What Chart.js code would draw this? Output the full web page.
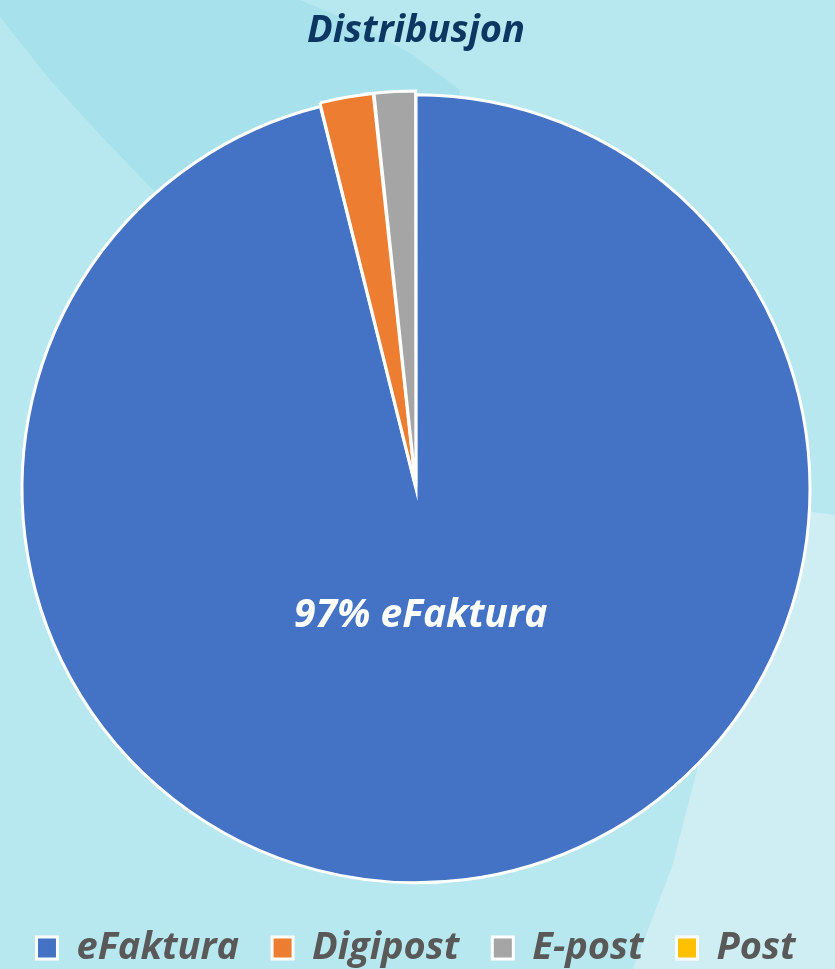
<!DOCTYPE html>
<html>
<head>
<meta charset="utf-8">
<script src="https://cdn.jsdelivr.net/npm/chart.js@4"></script>
<style>
  html, body { margin: 0; padding: 0; }
  body { width: 835px; height: 969px; background: #b8e8ef; position: relative; overflow: hidden; }
  .shape { position: absolute; left: 0; top: 0; width: 835px; height: 969px; }
  #dark {
    background: #a7e2ec;
    clip-path: polygon(0 0, 300px 0, 360px 25px, 413px 55px, 460px 90px, 416px 489px, 153px 190px, 100px 135px, 50px 80px, 0 17px);
  }
  #light {
    background: #ceeef4;
    clip-path: polygon(835px 515px, 812px 512px, 760px 520px, 697px 770px, 672px 867px, 633px 969px, 835px 969px);
  }
  #wrap { position: absolute; left: 0; top: 0; width: 835px; height: 969px; }
</style>
</head>
<body>
<div class="shape" id="dark"></div>
<div class="shape" id="light"></div>
<div id="wrap"><canvas id="chart"></canvas></div>
<script>
const categories = ["eFaktura", "Digipost", "E-post", "Post"];
const shares = [96.1, 2.2, 1.7, 0];
const sliceLabels = ["97% eFaktura", "", "", ""];
const sliceColors = ["#4472c4", "#ed7d31", "#a5a5a5", "#ffc000"];
const sliceOffsets = [0, 8, 8, 0];

const fontFamily = "'Open Sans', sans-serif";

// white text label inside the big slice
const sliceLabelPlugin = {
  id: "sliceLabel",
  afterDatasetsDraw(chart) {
    const meta = chart.getDatasetMeta(0);
    const ctx = chart.ctx;
    meta.data.forEach(function (arc, i) {
      if (!sliceLabels[i]) return;
      const p = arc.getProps(["x", "y", "outerRadius"], true);
      ctx.save();
      ctx.font = "italic bold 39px " + fontFamily;
      ctx.fillStyle = "#ffffff";
      ctx.textAlign = "center";
      ctx.textBaseline = "middle";
      ctx.fillText(sliceLabels[i], p.x + p.outerRadius * 0.012, p.y + p.outerRadius * 0.322);
      ctx.restore();
    });
  },
};

new Chart(document.getElementById("chart"), {
  type: "pie",
  data: {
    labels: categories,
    datasets: [
      {
        data: shares,
        backgroundColor: sliceColors,
        borderColor: "#ffffff",
        borderWidth: 3,
        borderJoinStyle: "miter",
        offset: sliceOffsets,
      },
    ],
  },
  options: {
    responsive: true,
    maintainAspectRatio: false,
    animation: false,
    radius: 394,
    layout: {
      padding: { right: 3, bottom: -8 },
    },
    plugins: {
      title: {
        display: true,
        text: "Distribusjon",
        color: "#0b3762",
        font: { family: fontFamily, size: 38, weight: "bold", style: "italic" },
        padding: { top: 8, bottom: 28 },
      },
      legend: {
        display: true,
        position: "bottom",
        labels: {
          color: "#595959",
          font: { family: fontFamily, size: 38, weight: "bold", style: "italic" },
          boxWidth: 21,
          boxHeight: 22,
          padding: 33,
        },
      },
      tooltip: { enabled: false },
    },
  },
  plugins: [sliceLabelPlugin],
});
</script>
</body>
</html>
